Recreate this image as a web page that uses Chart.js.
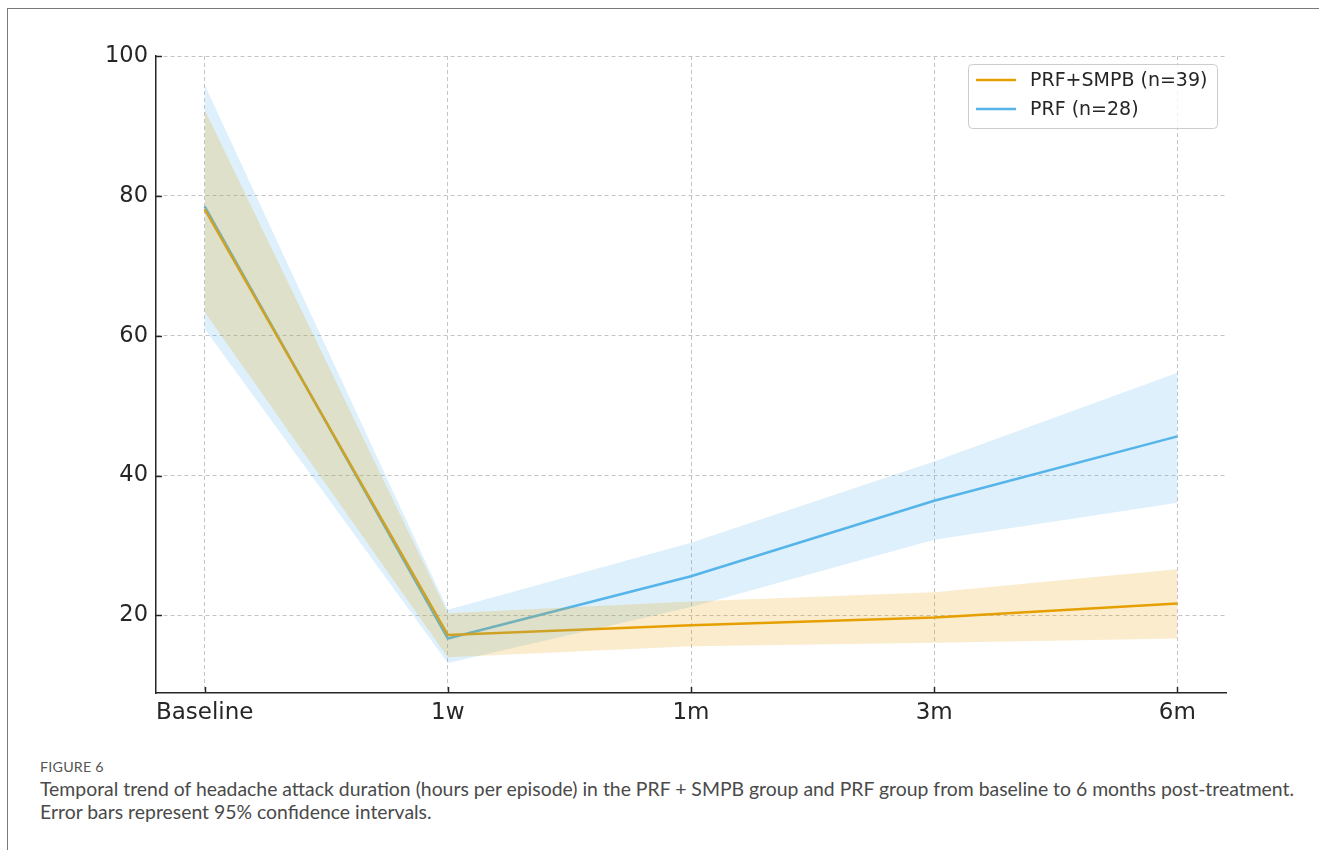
<!DOCTYPE html>
<html>
<head>
<meta charset="utf-8">
<script src="https://cdn.jsdelivr.net/npm/chart.js@4"></script>
<style>
  html, body { margin: 0; padding: 0; background: #fff; }
  body { width: 1319px; height: 850px; position: relative; overflow: hidden; }
  .frame { position: absolute; left: 7px; top: 8px; width: 1400px; height: 900px;
           border: 1px solid #7a7a7a; box-sizing: border-box; }
  .plot { position: absolute; left: 0; top: 0; width: 1319px; height: 745px; }
  .caption { position: absolute; left: 40px; top: 758px; font-family: Lato, "Open Sans", sans-serif;
             color: #4a4a4a; }
  .caption .fig { font-size: 14.3px; letter-spacing: 0.2px; color: #555; margin-bottom: 2px; }
  .caption .txt { font-size: 19.4px; line-height: 23px; white-space: nowrap; }
</style>
</head>
<body>
<div class="frame"></div>
<div class="plot"><canvas id="c" width="1319" height="745"></canvas></div>
<div class="caption">
  <div class="fig">FIGURE 6</div>
  <div class="txt">Temporal trend of headache attack duration (hours per episode) in the PRF + SMPB group and PRF group from baseline to 6 months post-treatment.<br>Error bars represent 95% confidence intervals.</div>
</div>
<script>
// Time points
const categories = ['Baseline', '1w', '1m', '3m', '6m'];
const yTicks = [20, 40, 60, 80, 100];

// PRF+SMPB group (n=39): mean and 95% CI
const prfSmpbMean = [78.1, 17.2, 18.6, 19.7, 21.7];
const prfSmpbLow  = [63.4, 14.0, 15.6, 16.1, 16.7];
const prfSmpbHigh = [92.3, 20.3, 22.0, 23.3, 26.6];

// PRF group (n=28): mean and 95% CI
const prfMean = [78.5, 16.7, 25.6, 36.4, 45.6];
const prfLow  = [61.0, 13.2, 21.2, 30.8, 36.1];
const prfHigh = [95.9, 20.8, 30.4, 42.0, 54.7];

const ORANGE = '#E69F00';
const BLUE = '#56B4E9';
const pts = arr => arr.map((v, i) => ({ x: i, y: v }));

// Draws inward tick marks and a framed legend in the upper right of the plot
const decor = {
  id: 'decor',
  afterDatasetsDraw(chart) {
    const { ctx, chartArea: a, scales: { x, y } } = chart;
    ctx.save();
    ctx.strokeStyle = '#262626';
    ctx.lineWidth = 1.5;
    yTicks.forEach(v => {
      const py = Math.round(y.getPixelForValue(v)) + 0.5;
      ctx.beginPath(); ctx.moveTo(a.left, py); ctx.lineTo(a.left + 6, py); ctx.stroke();
    });
    categories.forEach((c, i) => {
      const px = Math.round(x.getPixelForValue(i)) + 0.5;
      ctx.beginPath(); ctx.moveTo(px, a.bottom); ctx.lineTo(px, a.bottom - 6); ctx.stroke();
    });

    // legend
    const items = chart.data.datasets.filter(d => d.inLegend);
    const bx = a.right - 258, by = a.top + 8, bw = 249, bh = 64, r = 4;
    ctx.fillStyle = 'rgba(255,255,255,0.8)';
    ctx.strokeStyle = '#cccccc';
    ctx.lineWidth = 1;
    ctx.beginPath();
    ctx.roundRect(bx + 0.5, by + 0.5, bw, bh, r);
    ctx.fill(); ctx.stroke();
    ctx.font = '19px "DejaVu Sans"';
    ctx.textBaseline = 'middle';
    items.forEach((d, k) => {
      const ly = by + 16 + k * 29;
      ctx.strokeStyle = d.borderColor;
      ctx.lineWidth = 2.5;
      ctx.beginPath(); ctx.moveTo(bx + 8, ly); ctx.lineTo(bx + 48, ly); ctx.stroke();
      ctx.fillStyle = '#262626';
      ctx.fillText(d.label, bx + 62, ly + 1);
    });
    ctx.restore();
  }
};

const band = (data, color, fill) => ({
  data: pts(data), borderWidth: 0, pointRadius: 0, backgroundColor: color,
  fill: fill, inLegend: false, tension: 0
});

const gridStyle = { color: '#c4c4c4', lineWidth: 1, drawTicks: false, tickLength: 0 };
const axisBorder = { display: true, color: '#262626', width: 1.5, dash: [4, 3] };

new Chart(document.getElementById('c'), {
  type: 'line',
  data: {
    datasets: [
      band(prfSmpbLow, 'rgba(230,159,0,0.2)', false),
      band(prfSmpbHigh, 'rgba(230,159,0,0.2)', '-1'),
      band(prfLow, 'rgba(86,180,233,0.2)', false),
      band(prfHigh, 'rgba(86,180,233,0.2)', '-1'),
      { label: 'PRF+SMPB (n=39)', data: pts(prfSmpbMean), borderColor: ORANGE,
        borderWidth: 2.5, pointRadius: 0, fill: false, inLegend: true },
      { label: 'PRF (n=28)', data: pts(prfMean), borderColor: BLUE,
        borderWidth: 2.5, pointRadius: 0, fill: false, inLegend: true }
    ]
  },
  options: {
    responsive: false,
    animation: false,
    layout: { padding: { left: 96, right: 93, top: 56, bottom: 0 } },
    plugins: { legend: { display: false }, tooltip: { enabled: false } },
    scales: {
      x: {
        type: 'linear', min: -0.2, max: 4.2,
        afterBuildTicks: s => { s.ticks = categories.map((c, i) => ({ value: i })); },
        afterFit: s => { s.height = 52; },
        ticks: {
          callback: v => categories[v], autoSkip: false, maxRotation: 0,
          font: { family: 'DejaVu Sans', size: 23 }, color: '#262626', padding: 6
        },
        grid: gridStyle,
        border: axisBorder
      },
      y: {
        min: 8.9, max: 100,
        afterBuildTicks: s => { s.ticks = yTicks.map(v => ({ value: v })); },
        afterFit: s => { s.width = 60; },
        ticks: {
          font: { family: 'DejaVu Sans', size: 22.5 }, color: '#262626', padding: 8
        },
        grid: gridStyle,
        border: axisBorder
      }
    }
  },
  plugins: [decor]
});
</script>
</body>
</html>
